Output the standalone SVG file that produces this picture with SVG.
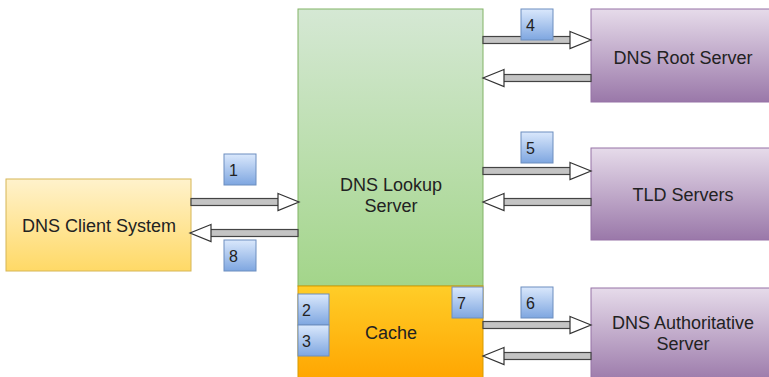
<svg xmlns="http://www.w3.org/2000/svg" width="769" height="377" viewBox="0 0 769 377">
<defs>
<linearGradient id="gY" x1="0" y1="0" x2="0" y2="1"><stop offset="0" stop-color="#fff2cc"/><stop offset="1" stop-color="#ffd966"/></linearGradient>
<linearGradient id="gG" x1="0" y1="0" x2="0" y2="1"><stop offset="0" stop-color="#d5e8d4"/><stop offset="1" stop-color="#a3d58a"/></linearGradient>
<linearGradient id="gO" x1="0" y1="0" x2="0" y2="1"><stop offset="0" stop-color="#ffcd28"/><stop offset="1" stop-color="#ffa500"/></linearGradient>
<linearGradient id="gP" x1="0" y1="0" x2="0" y2="1"><stop offset="0" stop-color="#e6dbea"/><stop offset="1" stop-color="#9a78a9"/></linearGradient>
<linearGradient id="gB" x1="0" y1="0" x2="0" y2="1"><stop offset="0" stop-color="#dae8fc"/><stop offset="1" stop-color="#7ea6e0"/></linearGradient>
<g id="arr">
<rect x="0" y="-3.5" width="88" height="7" fill="#c4c4c4" stroke="#444444" stroke-width="1.2"/>
<polygon points="87,-8.5 108,0 87,8.5" fill="#ffffff" stroke="#333333" stroke-width="1.2" stroke-linejoin="miter"/>
</g>
</defs>
<style>
.lbl{font-family:"Liberation Sans",Arial,Helvetica,sans-serif;font-size:18px;fill:#222;text-anchor:middle}
.num{font-family:"Liberation Sans",Arial,Helvetica,sans-serif;font-size:16px;fill:#222}
.nb{fill:url(#gB);stroke:#6c8ebf;stroke-width:1}
</style>
<rect width="769" height="377" fill="#ffffff"/>

<g id="client">
<rect x="6" y="179" width="185" height="92" fill="url(#gY)" stroke="#d6b656" stroke-width="1"/>
<text class="lbl" x="99" y="232">DNS Client System</text>
</g>

<g id="lookup">
<rect x="298" y="9" width="185" height="277" fill="url(#gG)" stroke="#82b366" stroke-width="1"/>
<text class="lbl" x="391" y="191">DNS Lookup</text>
<text class="lbl" x="391" y="212">Server</text>
</g>

<g id="cache">
<rect x="298" y="286" width="185" height="95" fill="url(#gO)" stroke="#d79b00" stroke-width="1"/>
<text class="lbl" x="391" y="339">Cache</text>
</g>

<g id="root">
<rect x="591" y="9" width="184" height="93" fill="url(#gP)" stroke="#9673a6" stroke-width="1"/>
<text class="lbl" x="683" y="64">DNS Root Server</text>
</g>

<g id="tld">
<rect x="591" y="148" width="184" height="92" fill="url(#gP)" stroke="#9673a6" stroke-width="1"/>
<text class="lbl" x="683" y="201">TLD Servers</text>
</g>

<g id="auth">
<rect x="591" y="288" width="184" height="95" fill="url(#gP)" stroke="#9673a6" stroke-width="1"/>
<text class="lbl" x="683" y="329">DNS Authoritative</text>
<text class="lbl" x="683" y="350">Server</text>
</g>

<g id="connectors">
<use href="#arr" transform="translate(191,202)"/>
<use href="#arr" transform="translate(298,233) scale(-1,1)"/>
<use href="#arr" transform="translate(483,40)"/>
<use href="#arr" transform="translate(591,78) scale(-1,1)"/>
<use href="#arr" transform="translate(483,171)"/>
<use href="#arr" transform="translate(591,202) scale(-1,1)"/>
<use href="#arr" transform="translate(483,325)"/>
<use href="#arr" transform="translate(591,356) scale(-1,1)"/>
</g>

<g id="step1"><rect class="nb" x="224" y="154" width="32" height="31"/><text class="num" x="229" y="176">1</text></g>
<g id="step8"><rect class="nb" x="224" y="240" width="32" height="31"/><text class="num" x="229" y="262">8</text></g>
<g id="step4"><rect class="nb" x="521" y="9" width="32" height="31"/><text class="num" x="526" y="31">4</text></g>
<g id="step5"><rect class="nb" x="521" y="132" width="32" height="31"/><text class="num" x="526" y="154">5</text></g>
<g id="step6"><rect class="nb" x="521" y="287" width="32" height="31"/><text class="num" x="526" y="309">6</text></g>
<g id="step7"><rect class="nb" x="452" y="287" width="31" height="31"/><text class="num" x="457" y="309">7</text></g>
<g id="step2"><rect class="nb" x="298" y="294" width="31" height="31"/><text class="num" x="302" y="316">2</text></g>
<g id="step3"><rect class="nb" x="298" y="325" width="31" height="31"/><text class="num" x="302" y="347">3</text></g>
</svg>
